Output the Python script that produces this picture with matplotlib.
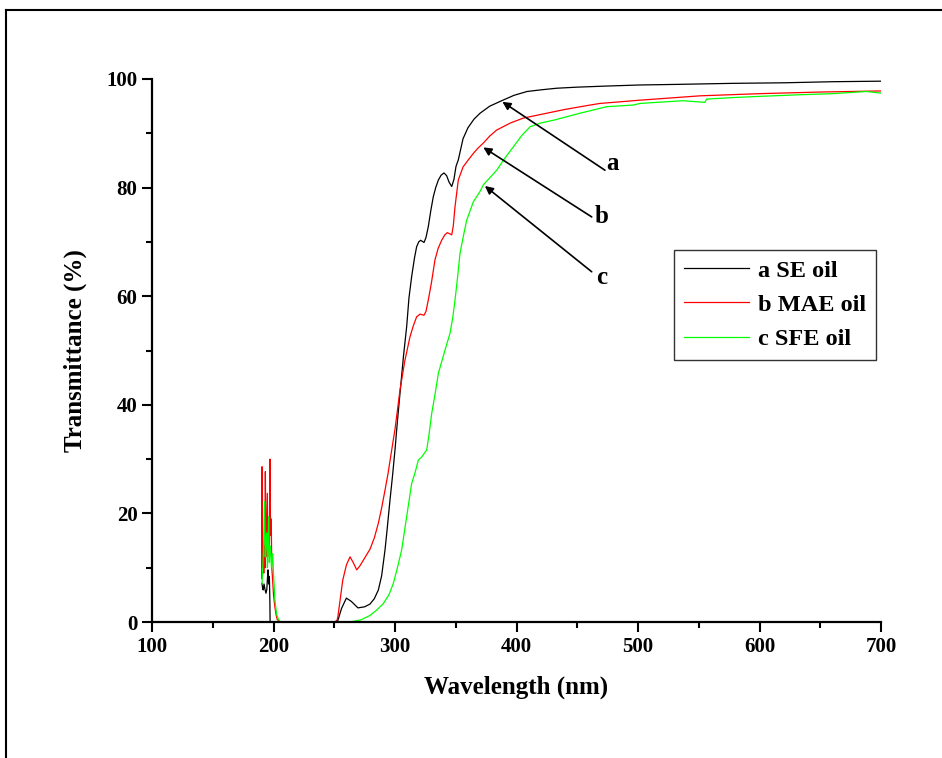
import numpy as np
import matplotlib
matplotlib.use("Agg")
import matplotlib.pyplot as plt
from matplotlib.lines import Line2D

plt.rcParams['font.family'] = ['Liberation Serif', 'DejaVu Serif']
plt.rcParams['font.weight'] = 'bold'

# a SE oil
x_se = [190.5, 191.2, 191.6, 192.2, 193.0, 193.8, 194.5, 195.0, 195.5, 196.0, 196.6, 197.0, 197.2,
        198, 205, 230, 250, 253, 256, 260, 264, 269.5, 275, 279.4, 283, 286.3, 289, 291.8, 293.5,
        295.9, 298, 300, 302, 304.1, 307, 309.6, 311.5, 313.7, 316, 317.8, 319.5, 321.1, 322.5,
        323.9, 325.5, 327.4, 329.5, 331.5, 333.5, 335.7, 338, 340.3, 342.5, 344.5, 346.7, 348.5,
        350.2, 352.1, 356, 360, 365, 370, 378, 387.8, 398, 408.7, 420, 433, 450, 474, 501.6, 530,
        578, 620, 660, 700]
y_se = [7.1, 6, 5.9, 7, 6, 5.3, 6, 8, 9.6, 7, 8.4, 4, 0,
        0, 0, 0, 0, 0.3, 2.5, 4.4, 3.8, 2.6, 2.8, 3.3, 4.3, 5.9, 8.5, 13.3, 17,
        22.5, 27, 31.7, 37, 42.1, 49, 54.4, 59.7, 63.6, 67, 69.1, 70, 70.3, 70.1,
        69.9, 70.8, 72.8, 75.8, 78.3, 80, 81.4, 82.3, 82.7, 82.2, 81, 80.2, 81.5,
        83.9, 85.1, 89, 91, 92.6, 93.7, 95, 96, 97, 97.7, 98, 98.3, 98.5, 98.7, 98.9, 99,
        99.2, 99.3, 99.5, 99.6]

# b MAE oil
x_mae = [190.3, 190.6, 191.0, 191.5, 192.0, 192.6, 193.0, 193.3, 193.7, 194.2, 194.9, 195.4, 196.0,
         196.6, 197.1, 197.5, 198.0, 198.2, 198.6, 199.2, 200, 201, 202, 203, 205, 230, 252,
         253, 257, 260, 263, 265.5, 268.5, 271, 274, 279.4, 283, 286.3, 289, 291.8, 294.3, 297.3,
         300, 304.1, 308, 312.3, 315, 317.8, 320.6, 323.9, 325.5, 327.4, 330, 332.9, 335.5, 338.4,
         341, 343, 345, 346.7, 348, 349.4, 352.1, 356, 360.3, 364.5, 368, 372.7, 378, 383.7, 395,
         405.6, 424.9, 440, 460.5, 468.7, 501.6, 551, 600, 650, 700]
y_mae = [8, 28.6, 10, 12, 9, 14, 10, 27.7, 12, 16, 23.7, 14, 18,
         12, 30, 16, 19, 17.6, 10, 8, 5, 3, 1.5, 0.5, 0, 0, 0,
         1, 7.7, 10.5, 12, 11, 9.6, 10.3, 11.4, 13.4, 15.5, 18.2, 21, 24.3, 27.4, 31.7,
         35.5, 42.7, 48, 52.5, 54.5, 56.2, 56.7, 56.5, 57.2, 59.3, 62.5, 66.7, 68.8, 70.3,
         71.3, 71.7, 71.5, 71.3, 73, 76.5, 81.4, 83.8, 85.1, 86.3, 87.2, 88.2, 89.5, 90.6, 91.9,
         92.8, 93.7, 94.4, 95.2, 95.5, 96.1, 96.9, 97.3, 97.6, 97.8]

# c SFE oil
x_sfe = [190.5, 191, 191.7, 192.2, 192.7, 193.2, 193.8, 194.4, 195, 195.5, 196, 196.6, 197.2,
         197.7, 198.3, 199.3, 200.2, 201.2, 202.5, 204, 206, 240, 263, 272, 279.4, 285, 290.4, 295,
         298.6, 302, 305.5, 309.6, 313.7, 316.5, 319.2, 322, 326.1, 328, 330.2, 333, 335.7, 338.5,
         341.2, 345.3, 347.5, 349.4, 351.5, 353.5, 356.2, 359, 364.5, 370, 372.7, 378, 383.7, 390,
         397.4, 404, 411.1, 420, 430.3, 452.3, 474.2, 496, 501.6, 537, 555, 556.5, 580, 600, 633,
         660, 688, 700]
y_sfe = [7, 9, 13, 17, 22.2, 12, 15, 16.4, 10, 14, 19.4, 11, 14,
         13.3, 10, 12.6, 8, 4, 1.5, 0.5, 0, 0, 0, 0.4, 1.2, 2.2, 3.4, 5,
         7.1, 10, 13.3, 19.4, 25.5, 27.5, 29.8, 30.4, 31.7, 34.5, 38.4, 42, 45.8, 48,
         50.1, 53.2, 56, 59.3, 63.5, 67.9, 71, 74, 77.4, 79.3, 80.5, 81.8, 83.2, 85.3,
         87.5, 89.5, 91.2, 91.9, 92.4, 93.7, 94.9, 95.2, 95.5, 96.0, 95.7, 96.3, 96.6, 96.8, 97.1,
         97.3, 97.7, 97.4]

# arrow tip, arrow tail, label position, label
arrows = [((388.4, 95.8), (472.8, 83.2), (479.4, 84.5), 'a'),
          ((372.7, 87.4), (461.9, 74.6), (470.4, 74.6), 'b'),
          ((374.0, 80.3), (461.9, 64.5), (470.4, 63.5), 'c')]

fig = plt.figure(figsize=(9.42, 7.58), dpi=100)
ax = fig.add_axes([152/942, 1-622/758, 729/942, 543/758])

ax.plot(x_se, y_se, color='black', lw=0.9, label='a SE oil')
ax.plot(x_mae, y_mae, color='#ff0000', lw=0.9, label='b MAE oil')
ax.plot(x_sfe, y_sfe, color='#00ff00', lw=0.9, label='c SFE oil')

ax.set_xlim(100, 700)
ax.set_ylim(0, 100)
ax.set_xticks(np.arange(100, 701, 100))
ax.set_xticks(np.arange(150, 700, 100), minor=True)
ax.set_yticks(np.arange(0, 101, 20))
ax.set_yticks(np.arange(10, 100, 20), minor=True)
ax.spines['top'].set_visible(False)
ax.spines['right'].set_visible(False)
for s in ['left', 'bottom']:
    ax.spines[s].set_linewidth(1.6)
ax.tick_params(which='major', direction='out', length=7.5, width=1.5, labelsize=15, pad=3)
ax.tick_params(which='minor', direction='out', length=4.5, width=1.5)

ax.set_xlabel('Wavelength (nm)', fontsize=18, fontweight='bold', labelpad=14)
ax.set_ylabel('Transmittance (%)', fontsize=18, fontweight='bold', labelpad=14)

for tip, tail, lab, t in arrows:
    ax.annotate('', xy=tip, xytext=tail,
                arrowprops=dict(arrowstyle='-|>', color='black', lw=1.2, mutation_scale=12,
                                shrinkA=0, shrinkB=0))
    ax.text(lab[0], lab[1], t, fontsize=18, fontweight='bold', ha='center', va='center')

leg = ax.legend(loc='upper left', bbox_to_anchor=(0.716, 0.685), borderaxespad=0,
                fontsize=17.5, frameon=True, fancybox=False, edgecolor='black',
                handlelength=2.7, labelspacing=0.5, borderpad=0.4, handletextpad=0.35)
leg.get_frame().set_linewidth(1.0)

# outer frame (only left and top edges are inside the picture)
fx = 6/942
fy = 1 - 10/758
fig.add_artist(Line2D([fx, fx], [0, fy], transform=fig.transFigure, color='black', lw=1.5))
fig.add_artist(Line2D([fx, 1], [fy, fy], transform=fig.transFigure, color='black', lw=1.5))

fig.savefig('out.png', dpi=100)
